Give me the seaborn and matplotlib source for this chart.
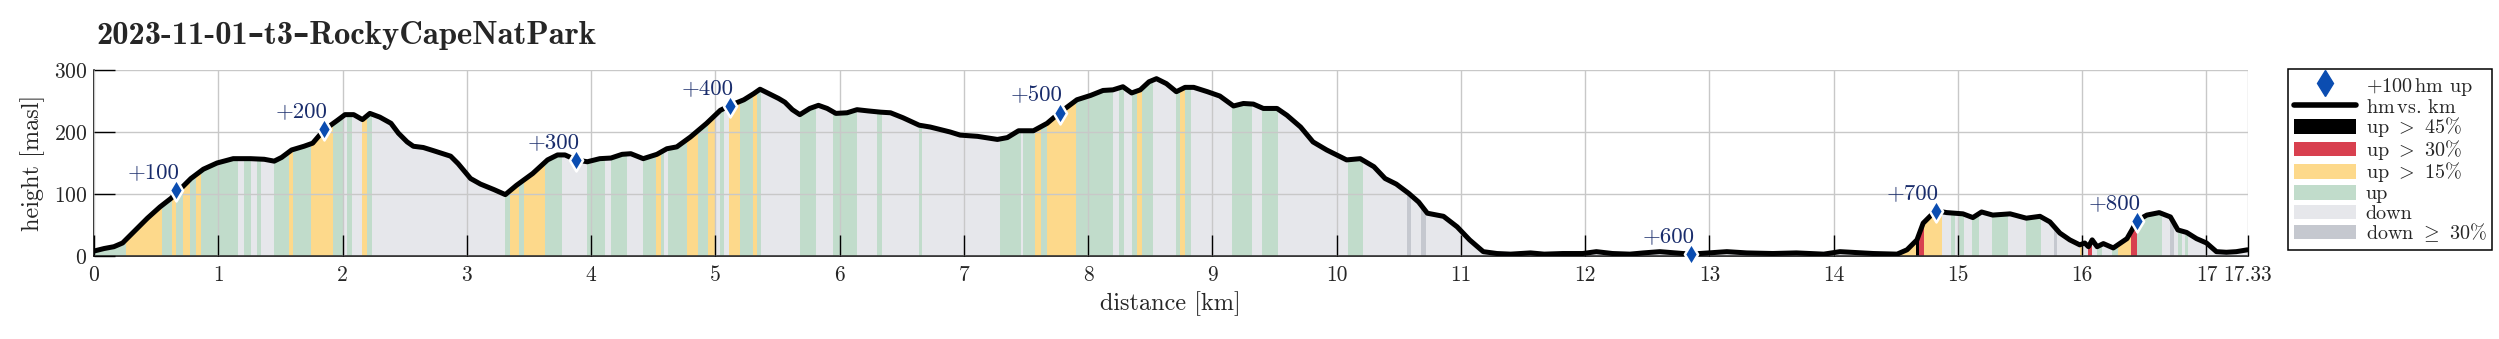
import numpy as np
import pandas as pd
import matplotlib
matplotlib.use("Agg")
import matplotlib.pyplot as plt
import seaborn as sns
from matplotlib.lines import Line2D
from matplotlib.patches import Patch, Rectangle
from matplotlib.legend_handler import HandlerPatch

# elevation profile (km, m)
dist = [0.00, 0.08, 0.16, 0.23, 0.32, 0.43, 0.53, 0.62, 0.70, 0.78, 0.88, 0.99, 1.12, 1.26, 1.37, 1.45,
        1.51, 1.59, 1.69, 1.76, 1.85, 1.96, 2.02, 2.09, 2.16, 2.22, 2.30, 2.39, 2.45, 2.52, 2.57, 2.65,
        2.73, 2.87, 2.93, 3.03, 3.11, 3.22, 3.31, 3.40, 3.53, 3.65, 3.73, 3.79, 3.88, 3.97, 4.07, 4.16,
        4.25, 4.32, 4.42, 4.53, 4.61, 4.69, 4.80, 4.93, 5.04, 5.12, 5.23, 5.31, 5.36, 5.43, 5.51, 5.56,
        5.62, 5.68, 5.76, 5.83, 5.90, 5.97, 6.06, 6.14, 6.23, 6.33, 6.41, 6.51, 6.64, 6.73, 6.81, 6.89,
        6.97, 7.11, 7.27, 7.35, 7.44, 7.56, 7.67, 7.77, 7.91, 8.02, 8.12, 8.20, 8.28, 8.35, 8.42, 8.49,
        8.55, 8.63, 8.71, 8.78, 8.85, 8.96, 9.06, 9.17, 9.25, 9.33, 9.41, 9.52, 9.60, 9.71, 9.81, 9.92,
        10.03, 10.08, 10.19, 10.30, 10.39, 10.48, 10.58, 10.66, 10.73, 10.86, 10.97, 11.07, 11.18, 11.29,
        11.40, 11.56, 11.67, 11.82, 11.98, 12.09, 12.22, 12.36, 12.47, 12.60, 12.85, 13.14, 13.30, 13.51,
        13.70, 13.92, 14.05, 14.32, 14.51, 14.59, 14.67, 14.72, 14.77, 14.82, 14.91, 15.04, 15.12, 15.19,
        15.28, 15.42, 15.55, 15.66, 15.74, 15.82, 15.90, 15.98, 16.02, 16.05, 16.08, 16.12, 16.17, 16.25,
        16.36, 16.40, 16.44, 16.52, 16.62, 16.71, 16.77, 16.84, 16.92, 17.00, 17.08, 17.16, 17.24, 17.33]
height = [8, 12, 15, 21, 39, 61, 79, 93, 109, 125, 140, 150, 157, 157, 156, 153,
          159, 171, 177, 182, 203, 219, 228, 228, 220, 230, 224, 214, 198, 184, 177, 175,
          170, 161, 149, 125, 116, 107, 99, 114, 133, 155, 163, 163, 155, 152, 157, 158,
          164, 165, 157, 164, 173, 176, 192, 214, 235, 243, 252, 262, 269, 262, 254, 248,
          236, 228, 238, 243, 238, 230, 231, 236, 234, 232, 231, 223, 211, 208, 204, 200,
          195, 193, 188, 191, 202, 202, 214, 231, 252, 259, 267, 268, 273, 263, 268, 281,
          286, 278, 265, 272, 272, 265, 258, 242, 246, 245, 238, 238, 227, 208, 184, 171,
          160, 155, 157, 144, 125, 116, 101, 87, 69, 64, 47, 26, 7, 4,
          3, 5, 3, 4, 4, 7, 4, 3, 5, 7, 3, 7, 5, 4,
          5, 3, 7, 4, 3, 10, 26, 53, 63, 73, 70, 68, 62, 71,
          66, 68, 61, 64, 55, 37, 26, 18, 21, 15, 26, 15, 20, 13,
          28, 42, 57, 66, 70, 63, 42, 38, 28, 21, 7, 6, 7, 10]

# slope classes along the track (everything not listed is plain "down")
band_start = [0.00, 0.26, 0.55, 0.63, 0.66, 0.72, 0.77, 0.82, 0.86, 1.21, 1.31, 1.45, 1.57, 1.60, 1.75,
              1.92, 2.04, 2.16, 2.20, 3.31, 3.35, 3.42, 3.46, 3.63, 3.97, 4.16, 4.42, 4.52, 4.56, 4.62,
              4.77, 4.86, 4.94, 5.035, 5.107, 5.196, 5.303, 5.335, 5.68, 5.95, 6.30, 6.64, 7.29, 7.48,
              7.57, 7.62, 7.67, 7.90, 8.25, 8.35, 8.39, 8.43, 8.71, 8.74, 8.78, 9.16, 9.40, 10.09,
              10.57, 10.68, 14.53, 14.66, 14.69, 14.73, 14.94, 15.01, 15.11, 15.27, 15.55, 15.77,
              15.98, 16.05, 16.12, 16.24, 16.29, 16.39, 16.44, 16.71, 16.77, 16.83]
band_end = [0.26, 0.55, 0.63, 0.66, 0.72, 0.77, 0.82, 0.86, 1.16, 1.26, 1.34, 1.57, 1.60, 1.75, 1.92,
            2.01, 2.08, 2.20, 2.24, 3.35, 3.42, 3.46, 3.63, 3.77, 4.11, 4.29, 4.52, 4.56, 4.59, 4.77,
            4.86, 4.94, 5.00, 5.067, 5.196, 5.303, 5.335, 5.368, 5.81, 6.14, 6.34, 6.66, 7.46, 7.57,
            7.62, 7.67, 7.90, 8.20, 8.29, 8.39, 8.43, 8.52, 8.74, 8.78, 8.83, 9.32, 9.53, 10.21,
            10.60, 10.72, 14.66, 14.69, 14.73, 14.87, 14.98, 15.05, 15.17, 15.40, 15.67, 15.80,
            16.00, 16.08, 16.16, 16.29, 16.39, 16.44, 16.64, 16.74, 16.80, 16.85]
band_kind = ['up', 'up15', 'up', 'up15', 'up', 'up15', 'up', 'up15', 'up', 'up', 'up', 'up', 'up15', 'up', 'up15',
             'up', 'up', 'up15', 'up', 'up', 'up15', 'up', 'up15', 'up', 'up', 'up', 'up', 'up15', 'up', 'up',
             'up15', 'up', 'up15', 'up', 'up15', 'up', 'up15', 'up', 'up', 'up', 'up', 'up', 'up', 'up',
             'up15', 'up', 'up15', 'up', 'up', 'up', 'up15', 'up', 'up', 'up15', 'up', 'up', 'up', 'up',
             'down30', 'down30', 'up15', 'up45', 'up30', 'up15', 'up', 'up', 'up', 'up', 'up', 'down30',
             'up15', 'up30', 'up', 'up', 'up15', 'up30', 'up', 'down30', 'up', 'up']

# +100 hm markers
gain_km = [0.66, 1.85, 3.88, 5.12, 7.77, 12.85, 14.82, 16.44]
gain_h = [106, 205, 155, 242, 231, 3, 73, 57]
gain_lbl = ['+100', '+200', '+300', '+400', '+500', '+600', '+700', '+800']

xtick_pos = [0, 1, 2, 3, 4, 5, 6, 7, 8, 9, 10, 11, 12, 13, 14, 15, 16, 17, 17.33]
xtick_lbl = ['0', '1', '2', '3', '4', '5', '6', '7', '8', '9', '10', '11', '12', '13', '14', '15', '16', '17', '17.33']

colors = {'up45': '#000000', 'up30': '#d8404f', 'up15': '#fdd98b', 'up': '#c1dccb',
          'down': '#e6e7eb', 'down30': '#c5c8cf'}
blue = '#0b4db1'
navy = '#1a2d6c'

sns.set_theme(style='white')
plt.rcParams['font.family'] = ['cmr10', 'DejaVu Serif']
plt.rcParams['mathtext.fontset'] = 'cm'
plt.rcParams['axes.formatter.use_mathtext'] = True
plt.rcParams['axes.unicode_minus'] = False

W, H = 2499, 339
fig = plt.figure(figsize=(W / 100, H / 100), dpi=100)
ax = fig.add_axes([94 / W, 1 - 256 / H, (2247.5 - 94) / W, 186 / H])

prof = pd.DataFrame({'km': dist, 'm': height})

# base fill = down, then clip coloured strips to the area under the profile
base = ax.fill_between(prof['km'], 0, prof['m'], color=colors['down'], lw=0, zorder=1)
clip = base.get_paths()[0]
for a, b, k in zip(band_start, band_end, band_kind):
    sp = ax.axvspan(a, b, color=colors[k], lw=0, zorder=1.5)
    sp.set_clip_path(clip, transform=ax.transData)

sns.lineplot(data=prof, x='km', y='m', color='black', linewidth=3.6, estimator=None,
             sort=False, ax=ax, zorder=3)
ax.lines[-1].set_solid_joinstyle('round')

sns.scatterplot(x=gain_km, y=gain_h, marker='d', s=125, color=blue, edgecolor='white',
                linewidth=1.8, zorder=5, clip_on=False, ax=ax)
for x, y, t in zip(gain_km, gain_h, gain_lbl):
    ax.annotate(t, (x, y), xytext=(2.5, 8.5), textcoords='offset points', ha='right',
                va='baseline', fontsize=16.5, color=navy, zorder=6, annotation_clip=False)

ax.set_xlim(0, 17.33)
ax.set_ylim(0, 300)
ax.set_xticks(xtick_pos)
ax.set_xticklabels(xtick_lbl)
ax.set_yticks([0, 100, 200, 300])
ax.grid(True, color='#c8c8c8', lw=1)
ax.set_axisbelow(False)
ax.tick_params(axis='x', direction='in', length=15, width=1, labelsize=15.5, pad=6.5, color='black', bottom=True)
ax.tick_params(axis='y', direction='in', length=15, width=1, labelsize=15.5, pad=5, color='black', left=True)
for s in ['top', 'right']:
    ax.spines[s].set_visible(False)
for s in ['left', 'bottom']:
    ax.spines[s].set_color('black')
    ax.spines[s].set_linewidth(1.1)

ax.set_xlabel('distance [km]', fontsize=17.5, labelpad=5)
ax.set_ylabel('height [masl]', fontsize=17.5, labelpad=6)

fig.text(96 / W, 1 - 44 / H, '2023-11-01–t3–RockyCapeNatPark', fontsize=23.5,
         family=['cmb10', 'DejaVu Serif'], weight='bold', ha='left', va='baseline')


# legend swatches: a bit lower than the row so all rows get the same pitch
def swatch(legend, orig_handle, xdescent, ydescent, width, height, fontsize):
    return Rectangle((-xdescent, -ydescent + 0.14 * height), width, 0.72 * height)


handles = [Line2D([], [], marker='d', color=blue, ls='none', markersize=13),
           Line2D([], [], color='black', lw=4)]
handles += [Patch(facecolor=colors[k], edgecolor='none') for k in ['up45', 'up30', 'up15', 'up', 'down', 'down30']]
labels = [r'+100$\,$hm up', r'hm$\,$vs. km', r'up $>$ 45%', r'up $>$ 30%', r'up $>$ 15%',
          'up', 'down', r'down $\geq$ 30%']
leg = fig.legend(handles, labels, loc='upper left', bbox_to_anchor=(2288 / W, 1 - 69 / H),
                 frameon=True, fancybox=False, edgecolor='black', framealpha=1, fontsize=14.5,
                 handlelength=3.1, handleheight=1.15, labelspacing=-0.08, handletextpad=0.45,
                 borderpad=0.3, borderaxespad=0,
                 handler_map={Patch: HandlerPatch(patch_func=swatch)})
leg.get_frame().set_linewidth(1.1)

fig.savefig('out.png', dpi=100)
